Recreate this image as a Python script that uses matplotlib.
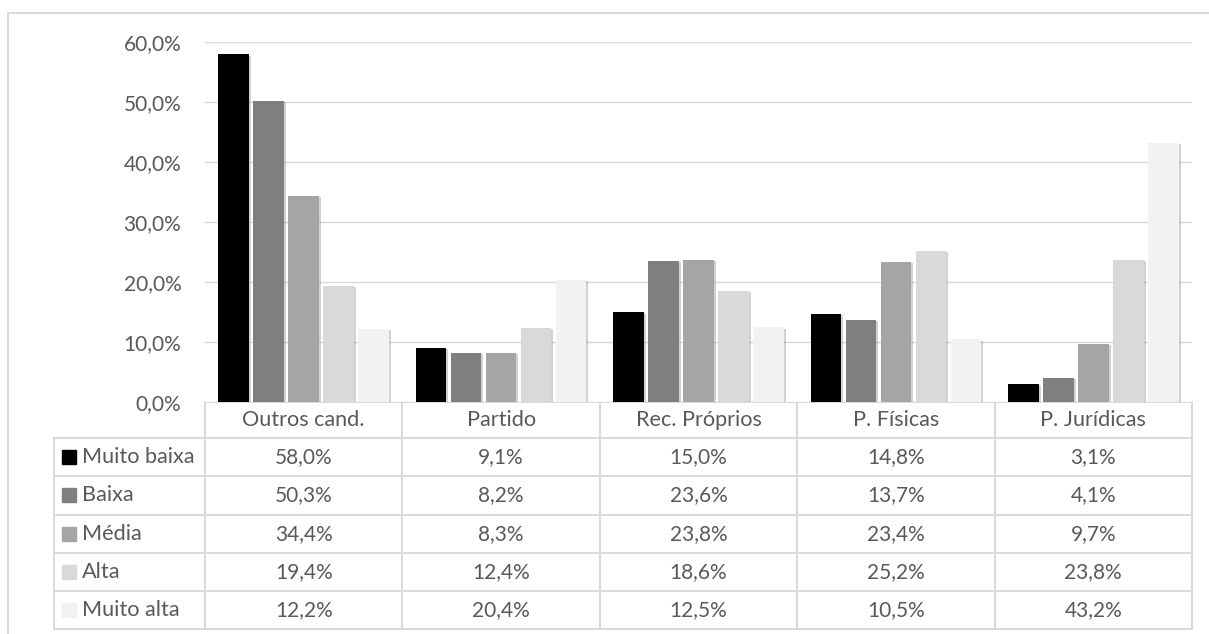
import numpy as np
import matplotlib.pyplot as plt
from matplotlib import patheffects as pe

plt.rcParams['font.family'] = ['Lato', 'DejaVu Sans']

categories = ['Outros cand.', 'Partido', 'Rec. Próprios', 'P. Físicas', 'P. Jurídicas']
series = ['Muito baixa', 'Baixa', 'Média', 'Alta', 'Muito alta']
muito_baixa = [58.0, 9.1, 15.0, 14.8, 3.1]
baixa = [50.3, 8.2, 23.6, 13.7, 4.1]
media = [34.4, 8.3, 23.8, 23.4, 9.7]
alta = [19.4, 12.4, 18.6, 25.2, 23.8]
muito_alta = [12.2, 20.4, 12.5, 10.5, 43.2]
values = [muito_baixa, baixa, media, alta, muito_alta]
colors = ['#000000', '#7f7f7f', '#a5a5a5', '#d9d9d9', '#f2f2f2']

W, H = 1209, 634
txt = '#595959'
grid = '#d9d9d9'
fs_txt = 15.6   # words
fs_num = 15.0   # percentages


def pct(v):
    return f'{v:.1f}%'.replace('.', ',')


fig = plt.figure(figsize=(W / 100, H / 100), dpi=100)

# plot area in pixel coords
x0, x1 = 205, 1192
y_top, y_zero = 42.3, 402.3
ax = fig.add_axes([x0 / W, 1 - y_zero / H, (x1 - x0) / W, (y_zero - y_top) / H])

step = 0.1773
width = 0.155
x = np.arange(len(categories))
shadow = [pe.SimplePatchShadow(offset=(1.5, -1.0), shadow_rgbFace='#808080', alpha=0.35), pe.Normal()]
for j, vals in enumerate(values):
    ax.bar(x + (j - 2) * step, vals, width, color=colors[j], zorder=3,
           path_effects=shadow)

ax.set_xlim(-0.5, len(categories) - 0.5)
ax.set_ylim(0, 60)
ticks = np.arange(0, 61, 10)
ax.set_yticks(ticks)
ax.set_yticklabels([pct(v) for v in ticks], color=txt, fontsize=fs_num)
ax.tick_params(axis='y', length=0, pad=17)
ax.set_xticks([])
ax.grid(axis='y', color=grid, lw=1.0, zorder=0)
for s in ax.spines.values():
    s.set_visible(False)

# overlay in pixel coordinates for the data table and chart border
ov = fig.add_axes([0, 0, 1, 1], zorder=-1)
ov.set_xlim(0, W)
ov.set_ylim(H, 0)
ov.axis('off')
ov.patch.set_alpha(0)

lw = 1.4
# chart border
ov.plot([8.3, 8.3, W], [H, 13.3, 13.3], color=grid, lw=1.4)

col_w = (x1 - x0) / len(categories)
row_tops = [402.0, 438.3, 476.4, 514.5, 552.7, 590.9]
row_bot = 629.0
leg_x = 54.0

# header row
ov.plot([x0, x1], [row_tops[0], row_tops[0]], color=grid, lw=lw)
for i, c in enumerate(categories):
    cx = x0 + (i + 0.5) * col_w
    ov.text(cx, (row_tops[0] + row_tops[1]) / 2, c, ha='center', va='center',
            color=txt, fontsize=fs_txt)

# horizontal rules
for yv in row_tops[1:] + [row_bot]:
    ov.plot([leg_x, x1], [yv, yv], color=grid, lw=lw)
# vertical rules
ov.plot([leg_x, leg_x], [row_tops[1], row_bot], color=grid, lw=lw)
for i in range(len(categories) + 1):
    xv = x0 + i * col_w
    ov.plot([xv, xv], [row_tops[0], row_bot], color=grid, lw=lw)

# rows with legend keys and values
bounds = row_tops[1:] + [row_bot]
for j, name in enumerate(series):
    cy = (bounds[j] + bounds[j + 1]) / 2
    ov.add_patch(plt.Rectangle((61.7, cy - 7), 14, 14, color=colors[j]))
    ov.text(81.5, cy, name, ha='left', va='center', color=txt, fontsize=fs_txt)
    for i, v in enumerate(values[j]):
        cx = x0 + (i + 0.5) * col_w
        ov.text(cx, cy, pct(v), ha='center', va='center', color=txt, fontsize=fs_num)

fig.savefig('out.png', dpi=100)
